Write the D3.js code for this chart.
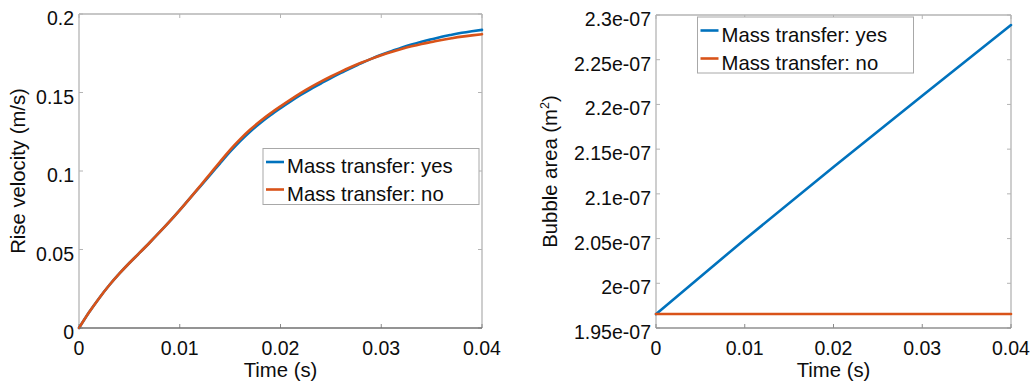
<!DOCTYPE html>
<html>
<head>
<meta charset="utf-8">
<script src="https://cdn.jsdelivr.net/npm/d3@7"></script>
<style>
  html, body { margin: 0; padding: 0; background: #fff; }
  svg { display: block; }
  text { font-family: "Liberation Sans", Arial, Helvetica, sans-serif; fill: #0d0d0d; }
</style>
</head>
<body>
<svg id="chart" width="1035" height="386"></svg>
<script>
// Time samples for the rise-velocity panel (s)
const timeVel = [0, 0.001, 0.002, 0.003, 0.004, 0.005, 0.006, 0.007, 0.008, 0.009,
  0.010, 0.011, 0.012, 0.013, 0.014, 0.015, 0.016, 0.017, 0.018, 0.019,
  0.020, 0.021, 0.022, 0.023, 0.024, 0.025, 0.026, 0.027, 0.028, 0.029,
  0.030, 0.031, 0.032, 0.033, 0.034, 0.035, 0.036, 0.037, 0.038, 0.039, 0.040];

// Rise velocity (m/s) with mass transfer
const velYes = [0, 0.0100, 0.0190, 0.0272, 0.0346, 0.0414, 0.0478, 0.0543, 0.0610, 0.0679,
  0.0751, 0.0826, 0.0899, 0.0973, 0.1049, 0.1123, 0.1191, 0.1252, 0.1306, 0.1355,
  0.1400, 0.1443, 0.1484, 0.1522, 0.1557, 0.1592, 0.1625, 0.1656, 0.1686, 0.1714,
  0.1740, 0.1763, 0.1785, 0.1805, 0.1823, 0.1839, 0.1855, 0.1868, 0.1880, 0.1890, 0.1899];

// Rise velocity (m/s) without mass transfer
const velNo = [0, 0.0100, 0.0190, 0.0272, 0.0346, 0.0414, 0.0478, 0.0543, 0.0610, 0.0679,
  0.0751, 0.0826, 0.0903, 0.0981, 0.1059, 0.1135, 0.1203, 0.1264, 0.1318, 0.1367,
  0.1412, 0.1455, 0.1496, 0.1534, 0.1569, 0.1602, 0.1633, 0.1662, 0.1689, 0.1714,
  0.1737, 0.1758, 0.1777, 0.1794, 0.1809, 0.1822, 0.1835, 0.1846, 0.1856, 0.1864, 0.1871];

// Time samples for the bubble-area panel (s)
const timeArea = [0, 0.01, 0.02, 0.03, 0.04];
// Bubble area (m^2)
const areaYes = [1.9656e-7, 2.0490e-7, 2.1300e-7, 2.2098e-7, 2.2888e-7];
const areaNo = [1.9656e-7, 1.9656e-7, 1.9656e-7, 1.9656e-7, 1.9656e-7];

// Axis ticks and labels
const timeTicks = [0, 0.01, 0.02, 0.03, 0.04];
const timeTickLabels = ["0", "0.01", "0.02", "0.03", "0.04"];
const velTicks = [0, 0.05, 0.1, 0.15, 0.2];
const velTickLabels = ["0", "0.05", "0.1", "0.15", "0.2"];
const areaTicks = [1.95e-7, 2.0e-7, 2.05e-7, 2.1e-7, 2.15e-7, 2.2e-7, 2.25e-7, 2.3e-7];
const areaTickLabels = ["1.95e-07", "2e-07", "2.05e-07", "2.1e-07", "2.15e-07", "2.2e-07", "2.25e-07", "2.3e-07"];

const seriesNames = ["Mass transfer: yes", "Mass transfer: no"];
const seriesColors = ["#0072BD", "#D95319"];

const svg = d3.select("#chart");
const FS_TICK = 19.5;
const FS = 20.3;

function panel(opts) {
  const { left, right, top, bottom } = opts.box;
  const x = d3.scaleLinear().domain([0, 0.04]).range([left, right]);
  const y = d3.scaleLinear().domain(opts.yDomain).range([bottom, top]);
  const g = svg.append("g");

  // frame
  g.append("line").attr("x1", left).attr("x2", right).attr("y1", top).attr("y2", top)
    .attr("stroke", "#b4b4b4").attr("stroke-width", 1.3);
  g.append("line").attr("x1", right).attr("x2", right).attr("y1", top).attr("y2", bottom)
    .attr("stroke", "#b4b4b4").attr("stroke-width", 1.3);
  g.append("line").attr("x1", left).attr("x2", left).attr("y1", top).attr("y2", bottom)
    .attr("stroke", "#b4b4b4").attr("stroke-width", 1.3);

  // inward ticks on all sides
  const tl = 4;
  timeTicks.forEach(t => {
    g.append("line").attr("x1", x(t)).attr("x2", x(t)).attr("y1", bottom).attr("y2", bottom - tl)
      .attr("stroke", "#8a8a8a").attr("stroke-width", 1);
    g.append("line").attr("x1", x(t)).attr("x2", x(t)).attr("y1", top).attr("y2", top + tl)
      .attr("stroke", "#b4b4b4").attr("stroke-width", 1);
  });
  opts.yTicks.forEach(v => {
    g.append("line").attr("x1", left).attr("x2", left + tl).attr("y1", y(v)).attr("y2", y(v))
      .attr("stroke", "#b4b4b4").attr("stroke-width", 1);
    g.append("line").attr("x1", right).attr("x2", right - tl).attr("y1", y(v)).attr("y2", y(v))
      .attr("stroke", "#b4b4b4").attr("stroke-width", 1);
  });

  // data lines (second series drawn on top)
  const line = d3.line().curve(d3.curveMonotoneX).x(d => x(d[0])).y(d => y(d[1]));
  [0, 1].forEach(i => {
    const vals = opts.series[i];
    g.append("path")
      .datum(opts.t.map((t, k) => [t, vals[k]]))
      .attr("fill", "none")
      .attr("stroke", seriesColors[i])
      .attr("stroke-width", 2.6)
      .attr("stroke-linejoin", "round")
      .attr("stroke-linecap", "round")
      .attr("d", line);
  });

  // bottom axis line on top of data
  g.append("line").attr("x1", left).attr("x2", right).attr("y1", bottom).attr("y2", bottom)
    .attr("stroke", opts.bottomColor).attr("stroke-width", 1.3);

  // x tick labels
  timeTicks.forEach((t, i) => {
    g.append("text").attr("x", x(t)).attr("y", bottom + 27)
      .attr("text-anchor", "middle").attr("font-size", FS_TICK).text(timeTickLabels[i]);
  });
  // y tick labels
  opts.yTicks.forEach((v, i) => {
    g.append("text").attr("x", opts.yLabelRight).attr("y", y(v) + 11)
      .attr("text-anchor", "end").attr("font-size", FS_TICK).text(opts.yTickLabels[i]);
  });

  // x title
  g.append("text").attr("x", (left + right) / 2).attr("y", bottom + 49)
    .attr("text-anchor", "middle").attr("font-size", FS).text("Time (s)");

  // y title
  const yt = g.append("text")
    .attr("transform", `translate(${opts.yTitleX},${(top + bottom) / 2}) rotate(-90)`)
    .attr("text-anchor", "middle").attr("font-size", FS);
  opts.yTitle(yt);

  // legend
  const L = opts.legend;
  g.append("rect").attr("x", L.x).attr("y", L.y).attr("width", L.w).attr("height", L.h)
    .attr("fill", "#fff").attr("stroke", "#a8a8a8").attr("stroke-width", 1);
  seriesNames.forEach((name, i) => {
    const base = L.y + L.firstBase + i * L.step;
    g.append("line").attr("x1", L.x + 3).attr("x2", L.x + 21)
      .attr("y1", base - 11).attr("y2", base - 11)
      .attr("stroke", seriesColors[i]).attr("stroke-width", 2.6);
    g.append("text").attr("x", L.x + 24).attr("y", base)
      .attr("font-size", FS).text(name);
  });
}

panel({
  box: { left: 79, right: 482, top: 14, bottom: 328 },
  yDomain: [0, 0.2],
  yTicks: velTicks,
  yTickLabels: velTickLabels,
  yLabelRight: 74,
  t: timeVel,
  series: [velYes, velNo],
  bottomColor: "#707070",
  yTitleX: 25,
  yTitle: t => t.text("Rise velocity (m/s)"),
  legend: { x: 263, y: 148.5, w: 216, h: 56, firstBase: 24.5, step: 27.5 }
});

panel({
  box: { left: 656, right: 1011, top: 15, bottom: 328 },
  yDomain: [1.95e-7, 2.3e-7],
  yTicks: areaTicks,
  yTickLabels: areaTickLabels,
  yLabelRight: 651,
  t: timeArea,
  series: [areaYes, areaNo],
  bottomColor: "#909090",
  yTitleX: 557,
  yTitle: t => {
    t.append("tspan").text("Bubble area (m");
    t.append("tspan").attr("font-size", 12.5).attr("dy", -8).text("2");
    t.append("tspan").attr("dy", 8).text(")");
  },
  legend: { x: 697.5, y: 17, w: 216, h: 56, firstBase: 24.5, step: 28 }
});
</script>
</body>
</html>
